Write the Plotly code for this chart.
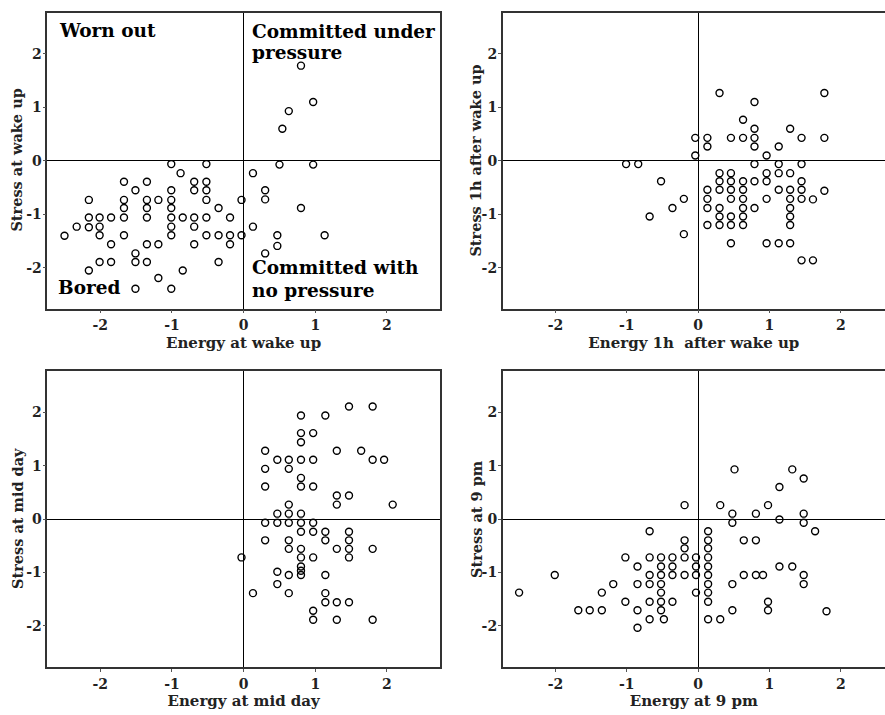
import plotly.graph_objects as go

# ---- Panel 1: wake up ----
e_wake = [-1.01, -0.52, -0.88, -1.67, -1.35, -0.69, -0.52, -1.51, -1.01, -0.69, -0.52,
          -2.16, -1.67, -1.35, -1.19, -1.01, -0.52, -0.03, -1.67, -1.35, -1.01, -0.35,
          -2.16, -2.01, -1.85, -1.67, -1.35, -1.01, -0.85, -0.69, -0.52, -0.19,
          -2.33, -2.16, -2.01, -1.01, -0.69,
          -2.50, -2.01, -1.67, -1.01, -0.52, -0.35, -0.19, -0.03,
          -1.85, -1.35, -1.19, -0.69, -0.19, -1.51,
          -2.01, -1.85, -1.51, -1.35, -0.35, -2.16, -0.85, -1.19, -1.51, -1.01,
          0.80, 0.97, 0.63, 0.54, 0.50, 0.97, 0.13, 0.30, 0.30, 0.80, 0.13, 0.47, 1.13, 0.47, 0.30]
s_wake = [-0.06, -0.06, -0.23, -0.39, -0.39, -0.39, -0.39, -0.55, -0.55, -0.55, -0.55,
          -0.73, -0.73, -0.73, -0.73, -0.73, -0.73, -0.73, -0.88, -0.88, -0.88, -0.88,
          -1.06, -1.06, -1.06, -1.06, -1.06, -1.06, -1.06, -1.06, -1.06, -1.06,
          -1.23, -1.24, -1.23, -1.23, -1.23,
          -1.40, -1.39, -1.39, -1.39, -1.39, -1.39, -1.39, -1.39,
          -1.56, -1.56, -1.56, -1.56, -1.56, -1.73,
          -1.89, -1.89, -1.89, -1.89, -1.89, -2.05, -2.05, -2.19, -2.39, -2.39,
          1.78, 1.10, 0.93, 0.60, -0.07, -0.07, -0.23, -0.55, -0.72, -0.88, -1.23, -1.39, -1.39, -1.59, -1.73]

# ---- Panel 2: 1h after wake up ----
e_1h = [0.30, 1.77, 0.79, 0.63, 0.79, 1.29,
        -0.04, 0.13, 0.46, 0.63, 0.79, 1.45, 1.77,
        0.13, 0.79, 1.13, -0.04, 0.96,
        -1.01, -0.84, 0.79, 1.13, 1.45,
        0.30, 0.46, 0.96, 1.13, 1.29,
        -0.52, 0.30, 0.46, 0.63, 0.79, 0.96, 1.45,
        0.13, 0.30, 0.46, 0.63, 1.13, 1.29, 1.45, 1.77,
        -0.20, 0.13, 0.46, 0.63, 0.96, 1.29, 1.45, 1.61,
        -0.36, 0.13, 0.30, 0.63, 0.79, 1.29,
        -0.68, 0.30, 0.46, 0.63, 1.29,
        0.13, 0.30, 0.46, 0.63, 1.29,
        -0.20, 0.46, 0.96, 1.13, 1.29, 1.45, 1.61]
s_1h = [1.27, 1.27, 1.10, 0.77, 0.60, 0.60,
        0.43, 0.43, 0.43, 0.43, 0.43, 0.43, 0.43,
        0.27, 0.27, 0.27, 0.10, 0.10,
        -0.06, -0.06, -0.06, -0.06, -0.06,
        -0.23, -0.23, -0.23, -0.23, -0.23,
        -0.38, -0.38, -0.38, -0.38, -0.38, -0.38, -0.38,
        -0.54, -0.54, -0.54, -0.54, -0.54, -0.54, -0.54, -0.56,
        -0.71, -0.71, -0.71, -0.71, -0.71, -0.71, -0.71, -0.72,
        -0.88, -0.88, -0.88, -0.88, -0.88, -0.88,
        -1.04, -1.04, -1.04, -1.04, -1.04,
        -1.20, -1.20, -1.20, -1.20, -1.20,
        -1.37, -1.54, -1.54, -1.54, -1.54, -1.86, -1.86]

# ---- Panel 3: mid day ----
e_mid = [1.47, 1.80, 0.80, 1.14, 0.80, 0.97, 0.80,
         0.30, 1.30, 1.64, 0.47, 0.63, 0.80, 0.97, 1.80, 1.96,
         0.30, 0.63, 0.80, 0.30, 0.80, 0.97, 1.30, 1.47,
         0.63, 1.30, 2.08, 0.47, 0.63, 0.80,
         0.30, 0.47, 0.63, 0.80, 0.97,
         0.80, 0.97, 1.14, 1.47, 0.30, 0.63, 1.14, 1.47,
         0.63, 0.80, 1.30, 1.47, 1.80,
         -0.03, 0.80, 0.97, 1.47, 0.80, 0.80, 0.80, 0.47, 0.63, 1.14,
         0.47, 0.13, 0.63, 1.14, 1.14, 1.30, 1.47, 0.97, 0.97, 1.30, 1.80]
s_mid = [2.11, 2.11, 1.94, 1.94, 1.61, 1.61, 1.44,
         1.28, 1.28, 1.28, 1.11, 1.11, 1.11, 1.11, 1.11, 1.11,
         0.94, 0.94, 0.77, 0.61, 0.61, 0.61, 0.44, 0.44,
         0.27, 0.27, 0.27, 0.10, 0.10, 0.10,
         -0.07, -0.07, -0.07, -0.07, -0.07,
         -0.24, -0.24, -0.24, -0.24, -0.40, -0.40, -0.40, -0.40,
         -0.56, -0.56, -0.56, -0.56, -0.56,
         -0.72, -0.72, -0.72, -0.72, -0.89, -0.97, -1.05, -0.99, -1.05, -1.05,
         -1.22, -1.39, -1.39, -1.39, -1.56, -1.56, -1.56, -1.72, -1.89, -1.89, -1.89]

# ---- Panel 4: 9 pm ----
e_9pm = [0.51, 1.32, 1.48, 1.14, -0.19, 0.31, 0.98, 0.48, 0.81, 1.48, 1.14, 0.48, 1.48,
         -0.68, 0.14, 1.64, -0.19, 0.14, 0.64, 0.81, -0.19, 0.14,
         -1.02, -0.68, -0.52, -0.36, -0.19, -0.03, 0.14,
         -0.85, -0.52, -0.36, -0.03, 0.14, 1.14, 1.32,
         -2.01, -0.68, -0.52, -0.36, -0.19, -0.03, 0.14, 0.64, 0.81, 0.91, 1.48,
         -1.19, -0.85, -0.68, -0.52, 0.14, 0.48, 1.48,
         -2.51, -1.35, -0.52, -0.03, 0.14,
         -1.02, -0.68, -0.52, -0.36, 0.14, 0.98,
         -1.68, -1.52, -1.35, -0.85, -0.52, 0.48, 0.98, 1.80,
         -0.68, -0.48, 0.14, 0.31, -0.85]
s_9pm = [0.93, 0.93, 0.76, 0.60, 0.26, 0.26, 0.26, 0.10, 0.10, 0.10, -0.01, -0.07, -0.07,
         -0.23, -0.23, -0.23, -0.40, -0.40, -0.40, -0.40, -0.55, -0.55,
         -0.72, -0.72, -0.72, -0.72, -0.72, -0.72, -0.72,
         -0.89, -0.89, -0.89, -0.89, -0.89, -0.89, -0.89,
         -1.05, -1.05, -1.05, -1.05, -1.05, -1.05, -1.05, -1.05, -1.05, -1.05, -1.05,
         -1.22, -1.22, -1.22, -1.22, -1.22, -1.22, -1.22,
         -1.38, -1.38, -1.38, -1.38, -1.38,
         -1.55, -1.55, -1.55, -1.55, -1.55, -1.55,
         -1.71, -1.71, -1.71, -1.71, -1.71, -1.71, -1.71, -1.73,
         -1.88, -1.88, -1.88, -1.88, -2.04]

x_titles = ["Energy at wake up", "Energy 1h\u00a0 after wake up", "Energy at mid day", "Energy at 9 pm"]
y_titles = ["Stress at wake up", "Stress 1h after wake up", "Stress at mid day", "Stress at 9 pm"]
tick_vals = [-2, -1, 0, 1, 2]
tick_text = ["-2", "-1", "0", "1", "2"]

quad_labels = [("Worn out", -2.60, 2.43), ("Committed under", 0.09, 2.41), ("pressure", 0.09, 2.02),
               ("Bored", -2.62, -2.37), ("Committed with", 0.09, -2.0), ("no pressure", 0.09, -2.42)]

FONT = "DejaVu Serif"
W, H = 885, 715
x_domains = [[47.3 / W, 440 / W], [502.7 / W, 1.0]]
y_domains = [[1 - 308.5 / H, 1 - 12.7 / H], [1 - 667.3 / H, 1 - 370.7 / H]]
x_ranges = [[-2.74, 2.74], [-2.74, 2.62]]
y_ranges = [[-2.76, 2.77], [-2.78, 2.78]]
ytitle_x = [17 / W, 476 / W]

datasets = [(e_wake, s_wake), (e_1h, s_1h), (e_mid, s_mid), (e_9pm, s_9pm)]

fig = go.Figure()
layout = {}
annotations = []
for i, (xs, ys) in enumerate(datasets):
    col = i % 2
    row = i // 2
    suf = "" if i == 0 else str(i + 1)
    fig.add_trace(go.Scatter(
        x=xs, y=ys, mode="markers",
        marker=dict(symbol="circle-open", size=7, color="black", line=dict(width=1.4, color="black")),
        xaxis="x" + suf, yaxis="y" + suf, showlegend=False, hoverinfo="skip"))
    common = dict(showgrid=False, zeroline=True, zerolinecolor="black", zerolinewidth=1,
                  showline=True, linecolor="#333", linewidth=1.5,
                  ticks="outside", ticklen=3, tickcolor="#555",
                  tickvals=tick_vals, ticktext=["<b>" + t + "</b>" for t in tick_text],
                  tickfont=dict(family=FONT, size=14, color="#222"))
    layout["xaxis" + suf] = dict(common, domain=x_domains[col], range=x_ranges[col],
                                 anchor="y" + suf, mirror=True,
                                 title=dict(text="<b>" + x_titles[i] + "</b>", standoff=5,
                                            font=dict(family=FONT, size=15, color="#222")))
    layout["yaxis" + suf] = dict(common, domain=y_domains[row], range=y_ranges[row],
                                 anchor="x" + suf, mirror=(col == 0), ticklabelstandoff=-2)
    annotations.append(dict(text="<b>" + y_titles[i] + "</b>", x=ytitle_x[col],
                            y=sum(y_domains[row]) / 2, xref="paper", yref="paper",
                            xanchor="center", yanchor="middle", textangle=-90, showarrow=False,
                            font=dict(family=FONT, size=14.5, color="#222")))

for text, xv, yv in quad_labels:
    annotations.append(dict(text="<b>" + text + "</b>", x=xv, y=yv, xref="x", yref="y",
                            xanchor="left", yanchor="middle", showarrow=False,
                            font=dict(family=FONT, size=18.5, color="black")))

fig.update_layout(width=W, height=H, margin=dict(l=0, r=0, t=0, b=0),
                  paper_bgcolor="white", plot_bgcolor="white", annotations=annotations, **layout)

fig.write_html("out.html")
